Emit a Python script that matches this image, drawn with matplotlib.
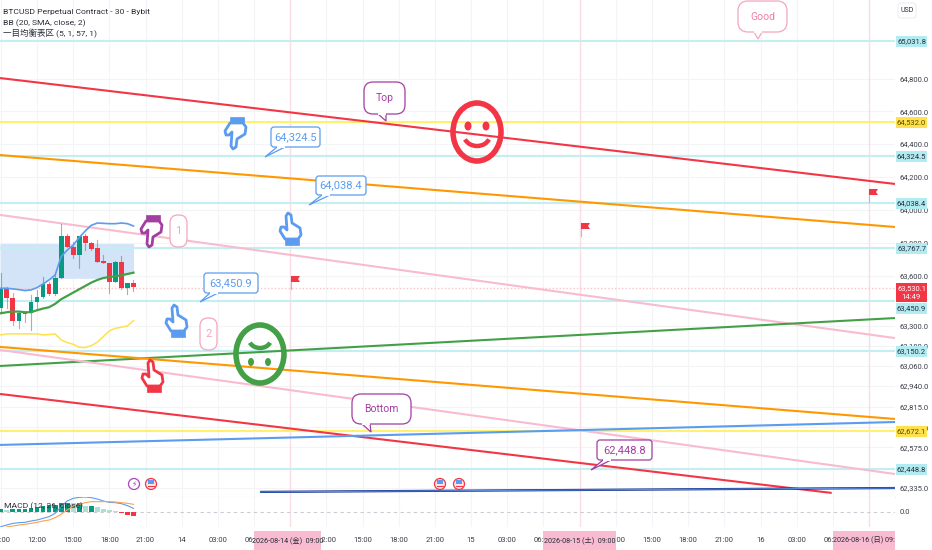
import matplotlib
matplotlib.use("Agg")
import matplotlib.pyplot as plt
from matplotlib.patches import Rectangle, FancyBboxPatch, Polygon, Ellipse, Circle, Arc
from matplotlib.ticker import NullFormatter, NullLocator

FONT = ['Roboto', 'Noto Sans CJK JP', 'DejaVu Sans']
plt.rcParams['font.family'] = FONT

# candles, one per 30 minutes, bar 0 is 12:00
bars = list(range(-6, 17))
opens = [63406, 63526, 63466, 63330, 63376, 63376, 63446, 63472, 63552, 63492, 63590, 63840,
         63776, 63726, 63840, 63800, 63766, 63690, 63676, 63566, 63686, 63526, 63556]
highs = [63616, 63536, 63496, 63386, 63386, 63486, 63516, 63596, 63566, 63606, 63916, 63856,
         63806, 63840, 63856, 63806, 63816, 63726, 63680, 63690, 63720, 63556, 63576]
lows = [63376, 63406, 63306, 63286, 63326, 63276, 63406, 63466, 63486, 63486, 63586, 63772,
        63706, 63646, 63756, 63756, 63686, 63676, 63496, 63566, 63520, 63490, 63512]
closes = [63526, 63466, 63330, 63376, 63370, 63446, 63472, 63552, 63492, 63590, 63840, 63776,
          63726, 63840, 63800, 63762, 63686, 63676, 63566, 63686, 63526, 63556, 63532]

bb_upper = [63526, 63526, 63522, 63518, 63512, 63516, 63530, 63552, 63576, 63606, 63716, 63756,
            63786, 63832, 63872, 63906, 63920, 63918, 63916, 63916, 63920, 63916, 63902]
bb_mid = [63376, 63382, 63386, 63386, 63382, 63382, 63394, 63404, 63412, 63432, 63460, 63480,
          63500, 63520, 63540, 63560, 63576, 63588, 63594, 63598, 63604, 63612, 63620]
bb_lower = [63246, 63252, 63252, 63252, 63252, 63252, 63252, 63246, 63248, 63252, 63216, 63200,
            63190, 63172, 63170, 63182, 63202, 63236, 63270, 63286, 63292, 63300, 63332]
zone_top = 63796
zone_low = [63526, 63526, 63522, 63518, 63512, 63516, 63530, 63552, 63576, 63586, 63586, 63586,
            63586, 63586, 63586, 63586, 63586, 63586, 63594, 63598, 63604, 63612, 63620]

macd = [-44, -39, -34, -32, -31, -27, -24, -19, -14, -4, 16, 33, 41, 44, 45, 43, 39, 33, 29, 28, 25, 19, 11]
signal = [-49, -45, -42, -39, -37, -34, -31, -27, -24, -17, -7, 6, 16, 23, 28, 31, 31, 31, 31, 30, 28, 26, 23]
hist = [10, 5, 8, 8, 10, 12, 15, 17, 20, 22, 28, 28, 26, 28, 18, 18, 15, 10, 5, 3, -4, -8, -11]

# horizontal levels
cyan_levels = [65031.8, 64324.5, 64038.4, 63767.7, 63450.9, 63150.2, 62448.8]
yellow_levels = [64532.0, 62672.1]
last_price = 63530.1

# trend lines: colour, bar start, bar end, price start, price end, width
trend_lines = [
    ('#f23645', -6.14, 142.3, 64804, 64157, 1.5),
    ('#ff9800', -6.14, 142.3, 64333, 63896, 1.5),
    ('#f8bbd0', -6.14, 142.3, 63969, 63227, 1.5),
    ('#43a047', -6.14, 142.3, 63060, 63347, 1.5),
    ('#ff9800', -6.14, 142.3, 63174, 62744, 1.5),
    ('#f8bbd0', -6.14, 142.3, 63156, 62418, 1.5),
    ('#f23645', -6.14, 131.8, 62893, 62306, 1.5),
    ('#5b9cf0', -6.14, 142.3, 62590, 62726, 1.5),
    ('#0d2f8f', 37, 142.3, 62312, 62335, 1.6),
]

price_ticks = [64800, 64600, 64400, 64200, 64000, 63800, 63600, 63300, 63180, 63060, 62940,
               62815, 62695, 62575, 62335]
time_ticks = [-6, 0, 6, 12, 18, 24, 30, 36, 48, 54, 60, 66, 72, 78, 84, 96, 102, 108, 114, 120, 126, 132]
time_labels = ['09:00', '12:00', '15:00', '18:00', '21:00', '14', '03:00', '06:00', '12:00', '15:00',
               '18:00', '21:00', '15', '03:00', '06:00', '12:00', '15:00', '18:00', '21:00', '16',
               '03:00', '06:00']
cross_bars = [42, 90, 138]

GREEN = '#089981'
RED = '#f23645'
W, H = 932, 550
PANE_R, MAIN_B, MACD_B = 895, 497, 527
XMIN, XMAX = -6.14, 142.3
YMIN, YMAX = 62282, 65285
SMALL = 5.5

fig = plt.figure(figsize=(9.32, 5.5), dpi=100, facecolor='white')
ax = fig.add_axes([0, 1 - MAIN_B / H, PANE_R / W, MAIN_B / H])
ax2 = fig.add_axes([0, 1 - MACD_B / H, PANE_R / W, (MACD_B - MAIN_B) / H])

# main pane
ax.set_yscale('log')
ax.set_xlim(XMIN, XMAX)
ax.set_ylim(YMIN, YMAX)
ax.set_xticks(time_ticks + cross_bars)
ax.tick_params(axis='x', length=0, labelbottom=False)
ax.yaxis.set_major_locator(plt.FixedLocator(price_ticks))
ax.yaxis.set_minor_locator(NullLocator())
ax.yaxis.set_minor_formatter(NullFormatter())
ax.yaxis.set_major_formatter(plt.FuncFormatter(lambda v, p: f'{v:,.1f}'))
ax.yaxis.tick_right()
ax.tick_params(axis='y', length=0, labelsize=SMALL, labelcolor='#3a3e48', pad=3)
ax.grid(True, color='#f3f4f6', lw=0.8)
ax.set_axisbelow(True)
for s in ax.spines.values():
    s.set_visible(False)
ax.spines['bottom'].set_visible(True)
ax.spines['bottom'].set_color('#e4e6ea')

for b in cross_bars:
    ax.axvline(b, color='#fbdde6', lw=1.0, zorder=1)
    ax2.axvline(b, color='#fbdde6', lw=1.0, zorder=1)

ax.fill_between([XMIN] + bars[1:], zone_low, zone_top, color='#d3e3f8', lw=0, zorder=1.5)

for level in cyan_levels:
    ax.axhline(level, color='#c5eef2', lw=1.5, zorder=2)
for level in yellow_levels:
    ax.axhline(level, color='#fff06e', lw=1.5, zorder=2)
ax.axhline(last_price, color='#f9c3cb', lw=1.0, ls=(0, (1, 1.5)), zorder=2)

for col, x0, x1, p0, p1, lw in trend_lines:
    ax.plot([x0, x1], [p0, p1], color=col, lw=lw, zorder=3, solid_capstyle='butt')
ax.plot([37, 142.3], [62312, 62335], color='#6f9de8', lw=0.6, zorder=3.1)

for b, o, h, l, c in zip(bars, opens, highs, lows, closes):
    col = GREEN if c >= o else RED
    ax.plot([b, b], [l, h], color=col, lw=0.8, alpha=0.55, zorder=4)
    ax.bar(b, abs(c - o), bottom=min(o, c), width=0.8, color=col, lw=0, zorder=4.1)

ax.plot(bars, bb_upper, color='#5b9cf0', lw=1.2, zorder=5)
ax.plot(bars, bb_mid, color='#43a047', lw=1.6, zorder=5)
ax.plot(bars, bb_lower, color='#ffe14d', lw=1.1, zorder=5)

# macd pane
ax2.set_xlim(XMIN, XMAX)
ax2.set_ylim(-45, 45)
ax2.set_xticks(time_ticks)
ax2.set_xticklabels(time_labels, fontsize=SMALL, color='#3a3e48')
ax2.tick_params(axis='x', length=0, pad=7)
ax2.yaxis.tick_right()
ax2.set_yticks([0])
ax2.set_yticklabels(['0.0'], fontsize=SMALL, color='#3a3e48')
ax2.tick_params(axis='y', length=0, pad=3)
ax2.grid(True, axis='x', color='#f3f4f6', lw=0.8)
ax2.set_axisbelow(True)
for s in ax2.spines.values():
    s.set_visible(False)
ax2.axhline(0, color='#c9ccd2', lw=0.8, ls=(0, (3, 3)), zorder=1)
prev = 0
for b, v in zip(bars, hist):
    if v < 0:
        col = RED
    elif v >= prev:
        col = GREEN
    else:
        col = '#acdfd6'
    ax2.bar(b, v, width=0.8, color=col, lw=0, zorder=2)
    prev = v
ax2.plot(bars, macd, color='#5b9cf0', lw=0.8, zorder=3)
ax2.plot(bars, signal, color='#ffa24c', lw=0.8, zorder=3)

# drawings on top, placed in screen pixels
ov = fig.add_axes([0, 0, 1, 1], zorder=10)
ov.set_xlim(0, W)
ov.set_ylim(H, 0)
ov.axis('off')
ov.patch.set_alpha(0)

ov.text(3, 12, 'BTCUSD Perpetual Contract - 30 - Bybit', fontsize=6.1, color='#2a2e39', va='center')
ov.text(3, 23, 'BB (20, SMA, close, 2)', fontsize=6.1, color='#2a2e39', va='center')
ov.text(3, 33, '一目均衡表区 (5, 1, 57, 1)', fontsize=6.1, color='#2a2e39', va='center')
ov.text(4, 506, 'MACD (12, 26, close)', fontsize=6.1, color='#2a2e39', va='center')


def callout(x0, y0, x1, y1, tail, text, col, tcol=None, fs=8, round_=3, tail_base=None):
    ov.add_patch(FancyBboxPatch((x0, y0), x1 - x0, y1 - y0, boxstyle=f'round,pad=0,rounding_size={round_}',
                                fc='white', ec=col, lw=0.9, zorder=6))
    base = tail_base or (x0 + 6, y1)
    ov.add_patch(Polygon([(base[0], base[1]), tail, (base[0] + 8, base[1])], closed=False,
                         fc='white', ec=col, lw=0.9, zorder=7))
    ov.plot([base[0] + 0.8, base[0] + 7.2], [base[1], base[1]], color='white', lw=1.4, zorder=7.1)
    ov.text((x0 + x1) / 2, (y0 + y1) / 2, text, fontsize=fs, color=tcol or col, ha='center', va='center', zorder=8)


BLUE = '#5b9cf0'
PURPLE = '#a23fa0'
PINK = '#f4a6bd'
callout(271, 127, 320, 147, (265, 157), '64,324.5', BLUE)
callout(316, 176, 366, 195, (309, 205), '64,038.4', BLUE)
callout(204, 273, 258, 293, (200, 302), '63,450.9', BLUE)
callout(597, 440, 652, 460, (591, 470), '62,448.8', PURPLE)
callout(364, 82, 405, 114, (386, 121), 'Top', PURPLE, fs=7.5, round_=9, tail_base=(378, 114))
callout(352, 394, 411, 424, (371, 432), 'Bottom', PURPLE, fs=7.5, round_=9, tail_base=(362, 424))
callout(738, 1, 787, 32, (758, 39), 'Good', PINK, '#ef7fa0', fs=7.5, round_=10, tail_base=(754, 32))

for x0, y0, label in [(170, 215, '1'), (200, 318, '2')]:
    ov.add_patch(FancyBboxPatch((x0, y0), 17, 32, boxstyle='round,pad=0,rounding_size=8', fc='white',
                                ec=PINK, lw=0.9, zorder=6))
    ov.text(x0 + 8.5, y0 + 16, label, fontsize=8, color=PINK, ha='center', va='center', zorder=7)

# hand outline around its centre, finger up, flipped for the pointing down ones
hand_outline = [(-5, -13), (-3, -16), (0, -14), (1, -6), (9, -1), (10, 6), (7, 10), (-6, 10), (-11, 2),
                (-10, -2), (-7, -2), (-4, 1)]


def hand(x, y, col, down=False):
    s = -1 if down else 1
    pts = [(x + px, y + s * py) for px, py in hand_outline]
    ov.add_patch(Polygon(pts, closed=True, fc='white', ec=col, lw=2.0, joinstyle='round', zorder=7))
    y0 = y + 10 if not down else y - 16
    ov.add_patch(Rectangle((x - 6.5, y0), 14, 6, fc=col, ec=col, lw=0.5, zorder=7.5))


hand(236, 133, BLUE, down=True)
hand(152, 231, PURPLE, down=True)
hand(291, 229, BLUE)
hand(177, 321, BLUE)
hand(153, 376, RED)


def face(cx, cy, col, sad=False):
    ov.add_patch(Ellipse((cx, cy), 48, 58, fc='none', ec=col, lw=4, zorder=8))
    if sad:
        ov.add_patch(Ellipse((cx - 9, cy + 8), 6, 8, fc=col, ec='none', zorder=8))
        ov.add_patch(Ellipse((cx + 8, cy + 8), 6, 8, fc=col, ec='none', zorder=8))
        ov.add_patch(Arc((cx, cy - 15), 22, 18, theta1=20, theta2=160, ec=col, lw=3.2, zorder=8))
    else:
        ov.add_patch(Ellipse((cx - 9, cy - 6), 7, 9, fc=col, ec='none', zorder=8))
        ov.add_patch(Ellipse((cx + 9, cy - 6), 7, 9, fc=col, ec='none', zorder=8))
        ov.add_patch(Arc((cx, cy + 3), 26, 22, theta1=20, theta2=160, ec=col, lw=3.2, zorder=8))


face(477, 132, RED)
face(260, 354, '#43a047', sad=True)

for x, y in [(291, 279), (581, 226), (869, 192)]:
    ov.plot([x, x], [y - 3, y + 10], color='#b8bcc4', lw=0.8, zorder=6)
    ov.add_patch(Polygon([(x, y - 3), (x + 9, y - 3), (x + 7, y), (x + 9, y + 3), (x, y + 3)],
                         fc=RED, ec='none', zorder=6.5))

for x, kind in [(134, 'b'), (151, 'u'), (440, 'u'), (459, 'u')]:
    if kind == 'b':
        ov.add_patch(Circle((x, 484), 5.5, fc='white', ec='#ab47bc', lw=0.9, zorder=7))
        ov.text(x, 484, '\u26a1', fontsize=5.5, color='#ab47bc', ha='center', va='center', family='DejaVu Sans', zorder=8)
    else:
        ov.add_patch(Circle((x, 484), 5.5, fc='#ffe4e7', ec=RED, lw=0.9, zorder=7))
        ov.add_patch(Rectangle((x - 3, 480), 5.5, 3.5, fc=BLUE, ec='none', zorder=8))
        ov.add_patch(Rectangle((x - 3.5, 486), 7, 1.2, fc=RED, ec='none', zorder=8))

# pink crosshair date labels
for x0, x1, text in [(254, 321, '2026-08-14 (金)  09:00'), (543, 616, '2026-08-15 (土)  09:00'),
                     (833, 895, '2026-08-16 (日) 09:')]:
    ov.add_patch(Rectangle((x0, 531), x1 - x0, 19, fc='#f8bbd0', ec='none', zorder=6))
    ov.text((x0 + x1) / 2, 540, text, fontsize=5.2, color='#2a2e39', ha='center', va='center', zorder=7)

# coloured price tags
for level_y, text, bg, tc in [(41, '65,031.8', '#b2ebf2', '#2a2e39'), (122, '64,532.0', '#ffe14d', '#5a4a00'),
                              (156, '64,324.5', '#b2ebf2', '#2a2e39'), (203, '64,038.4', '#b2ebf2', '#2a2e39'),
                              (248, '63,767.7', '#b2ebf2', '#2a2e39'), (308, '63,450.9', '#b2ebf2', '#2a2e39'),
                              (351, '63,150.2', '#b2ebf2', '#2a2e39'), (431, '62,672.1', '#ffe14d', '#5a4a00'),
                              (469, '62,448.8', '#b2ebf2', '#2a2e39')]:
    ov.add_patch(Rectangle((896, level_y - 5.5), 31, 11, fc=bg, ec='none', zorder=6))
    ov.text(911.5, level_y, text, fontsize=SMALL, color=tc, ha='center', va='center', zorder=7)
ov.add_patch(Rectangle((896, 283), 31, 19, fc=RED, ec='none', zorder=6))
ov.text(911.5, 288, '63,530.1', fontsize=SMALL, color='white', ha='center', va='center', zorder=7)
ov.text(911.5, 297, '14:49', fontsize=SMALL, color='white', ha='center', va='center', zorder=7)

ov.add_patch(FancyBboxPatch((898, 3), 18, 15, boxstyle='round,pad=0,rounding_size=3', fc='white', ec='#eceef1',
                            lw=0.8, zorder=6))
ov.text(907, 11, 'USD', fontsize=5, color='#2a2e39', ha='center', va='center', zorder=7)

fig.savefig('out.png', dpi=100)
